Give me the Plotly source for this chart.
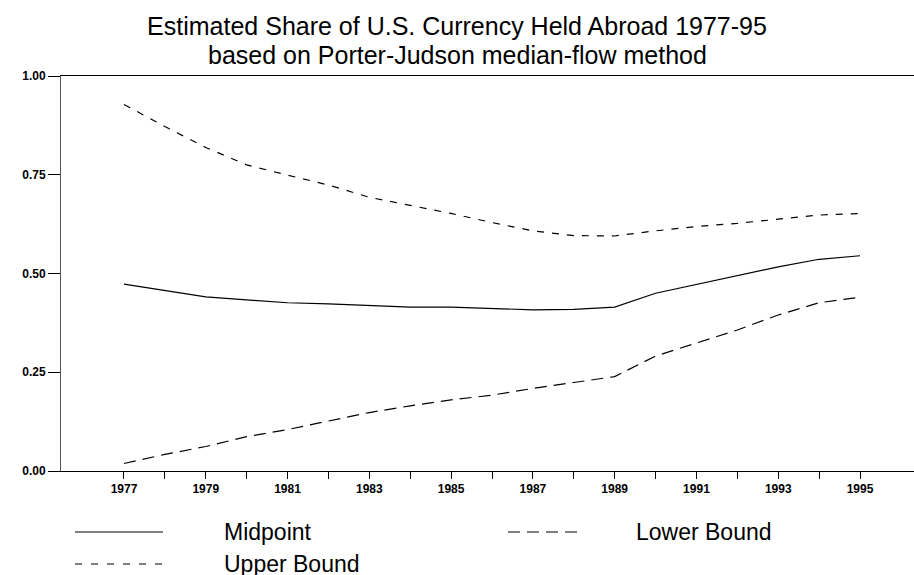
import plotly.graph_objects as go

years = list(range(1977, 1996))
midpoint = [0.473, 0.457, 0.441, 0.433, 0.426, 0.423, 0.419, 0.415, 0.415, 0.412,
            0.408, 0.409, 0.415, 0.450, 0.472, 0.494, 0.517, 0.536, 0.545]
upper = [0.928, 0.872, 0.819, 0.775, 0.749, 0.724, 0.693, 0.673, 0.652, 0.629,
         0.608, 0.596, 0.595, 0.608, 0.619, 0.627, 0.637, 0.648, 0.652]
lower = [0.019, 0.042, 0.062, 0.087, 0.105, 0.127, 0.148, 0.165, 0.180, 0.192,
         0.209, 0.224, 0.239, 0.291, 0.323, 0.357, 0.395, 0.426, 0.440]
tick_labels = [str(y) if (y - 1977) % 2 == 0 else "" for y in years]
y_ticks = [0, 0.25, 0.5, 0.75, 1.0]
series_names = ["Midpoint", "Lower Bound", "Upper Bound"]

title_font = "Liberation Sans, Arial, sans-serif"
tick_font = "Liberation Sans, Arial, sans-serif"

fig = go.Figure()
fig.add_trace(go.Scatter(x=years, y=midpoint, mode="lines", name=series_names[0],
                         line=dict(color="black", width=1.2)))
fig.add_trace(go.Scatter(x=years, y=lower, mode="lines", name=series_names[1],
                         line=dict(color="black", width=1.2, dash="12px,7px")))
fig.add_trace(go.Scatter(x=years, y=upper, mode="lines", name=series_names[2],
                         line=dict(color="black", width=1.2, dash="7px,8px")))

W, H = 914, 575
ml, mr, mt, mb = 61, 0, 76, 104
PW, PH = W - ml - mr, H - mt - mb

fig.update_layout(
    width=W, height=H,
    margin=dict(l=ml, r=mr, t=mt, b=mb, pad=0, autoexpand=False),
    paper_bgcolor="white", plot_bgcolor="white",
    showlegend=False,
    title=dict(text="Estimated Share of U.S. Currency Held Abroad 1977-95",
               x=0.5, xanchor="center", y=1 - 26 / H, yanchor="middle",
               font=dict(family=title_font, size=25, color="black")),
    xaxis=dict(range=[1975.46, 1996.32], tickmode="array", tickvals=years, ticktext=tick_labels,
               ticks="outside", ticklen=7, tickcolor="black", tickwidth=1,
               showline=True, linecolor="black", linewidth=1, mirror=True,
               showgrid=False, zeroline=False,
               tickfont=dict(family=tick_font, size=12, color="black", weight="bold")),
    yaxis=dict(range=[0, 1], tickmode="array", tickvals=y_ticks, tickformat=".2f",
               ticks="outside", ticklen=12, tickcolor="black", tickwidth=1,
               showline=True, linecolor="#555555", linewidth=1,
               showgrid=False, zeroline=False,
               tickfont=dict(family=tick_font, size=12, color="black", weight="bold")),
)

fig.add_annotation(xref="paper", yref="paper", x=(457 - ml) / PW, y=(H - 55 - mb) / PH,
                   text="based on Porter-Judson median-flow method", showarrow=False,
                   xanchor="center", yanchor="middle",
                   font=dict(family=title_font, size=25, color="black"))

# manual legend
legend_items = [
    (series_names[0], None, 75, 163, 222, 532),
    (series_names[1], "12px,7px", 508, 578, 634, 532),
    (series_names[2], "7px,9px", 75, 163, 222, 564),
]
for name, dash, x0, x1, tx, ypx in legend_items:
    yp = (H - ypx - mb) / PH
    fig.add_shape(type="line", xref="paper", yref="paper",
                  x0=(x0 - ml) / PW, x1=(x1 - ml) / PW, y0=yp, y1=yp,
                  line=dict(color="black", width=1, dash=dash if dash else "solid"))
    fig.add_annotation(xref="paper", yref="paper", x=(tx - ml) / PW, y=yp,
                       text=name, showarrow=False, xanchor="left", yanchor="middle",
                       font=dict(family=title_font, size=23, color="black"))

fig.write_html("out.html", config={"displayModeBar": False},
               post_script="document.body.style.margin='0px';")
